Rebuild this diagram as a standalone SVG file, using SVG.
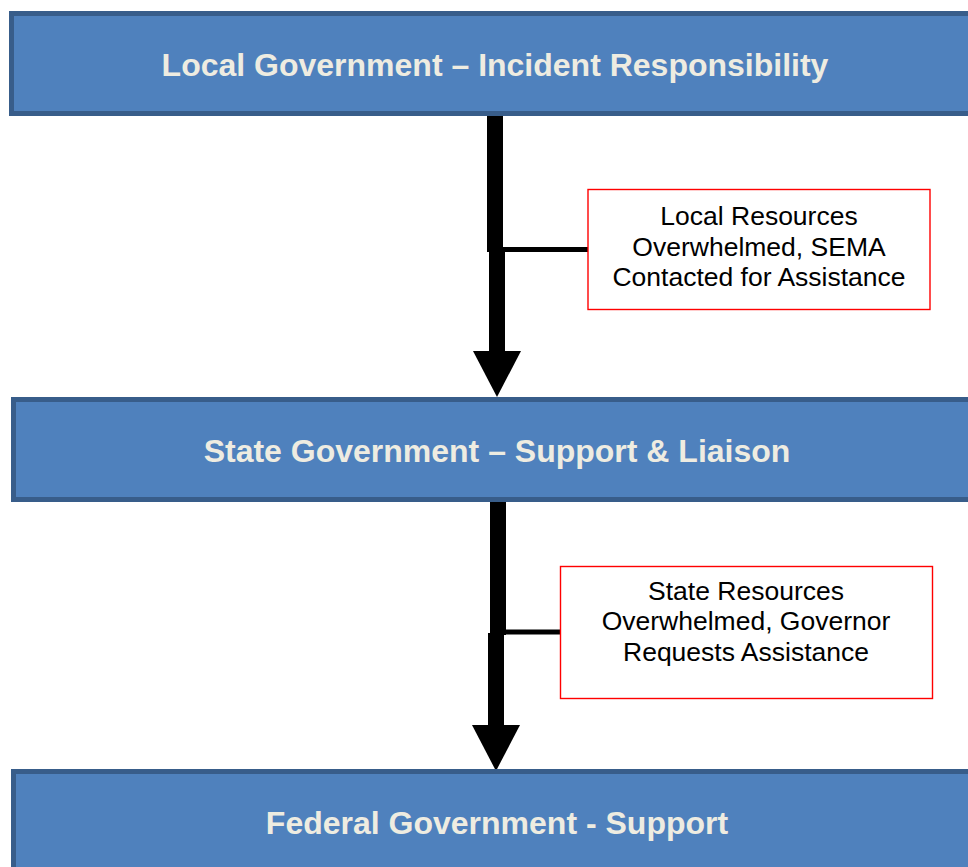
<svg xmlns="http://www.w3.org/2000/svg" width="968" height="867" viewBox="0 0 968 867">
  <style>
    .band { fill: #4f81bd; stroke: #385d8a; stroke-width: 5; }
    .head { font-family: "Liberation Sans", Arial, sans-serif; font-weight: bold; font-size: 32px; fill: #eeece1; text-anchor: middle; }
    .note { fill: #ffffff; stroke: #ff0000; stroke-width: 1.4; }
    .ntxt { font-family: "Liberation Sans", Arial, sans-serif; font-size: 26.5px; fill: #000000; text-anchor: middle; }
    .shaft { fill: none; stroke: #000000; stroke-width: 16; }
    .tick { fill: none; stroke: #000000; stroke-width: 5; }
  </style>
  <defs>
    <marker id="ah" markerUnits="userSpaceOnUse" viewBox="0 0 46 48" markerWidth="46" markerHeight="48" refX="0" refY="24" orient="auto">
      <path d="M0,0 L46,24 L0,48 Z" fill="#000000"/>
    </marker>
  </defs>
  <rect width="968" height="867" fill="#ffffff"/>

  <g id="connectors">
    <path class="shaft" d="M495,113 V252 M497,250 V351" marker-end="url(#ah)"/>
    <line class="tick" x1="503" y1="249.5" x2="588" y2="249.5"/>
    <path class="shaft" d="M498,501 V635 M496,633 V725" marker-end="url(#ah)"/>
    <line class="tick" x1="505" y1="632" x2="560" y2="632"/>
  </g>

  <g id="local">
    <rect class="band" x="11.5" y="13.5" width="970" height="100"/>
    <text class="head" x="495" y="76">Local Government – Incident Responsibility</text>
  </g>

  <g id="note-local">
    <rect class="note" x="588" y="189.5" width="342" height="120"/>
    <text class="ntxt" x="759" y="225">Local Resources</text>
    <text class="ntxt" x="759" y="256">Overwhelmed, SEMA</text>
    <text class="ntxt" x="759" y="286">Contacted for Assistance</text>
  </g>

  <g id="state">
    <rect class="band" x="13.5" y="399.5" width="970" height="100"/>
    <text class="head" x="497" y="462">State Government – Support &amp; Liaison</text>
  </g>

  <g id="note-state">
    <rect class="note" x="560.5" y="566.5" width="372" height="132"/>
    <text class="ntxt" x="746" y="600">State Resources</text>
    <text class="ntxt" x="746" y="630">Overwhelmed, Governor</text>
    <text class="ntxt" x="746" y="661">Requests Assistance</text>
  </g>

  <g id="federal">
    <rect class="band" x="13.5" y="771.5" width="970" height="110"/>
    <text class="head" x="497" y="834">Federal Government - Support</text>
  </g>
</svg>
